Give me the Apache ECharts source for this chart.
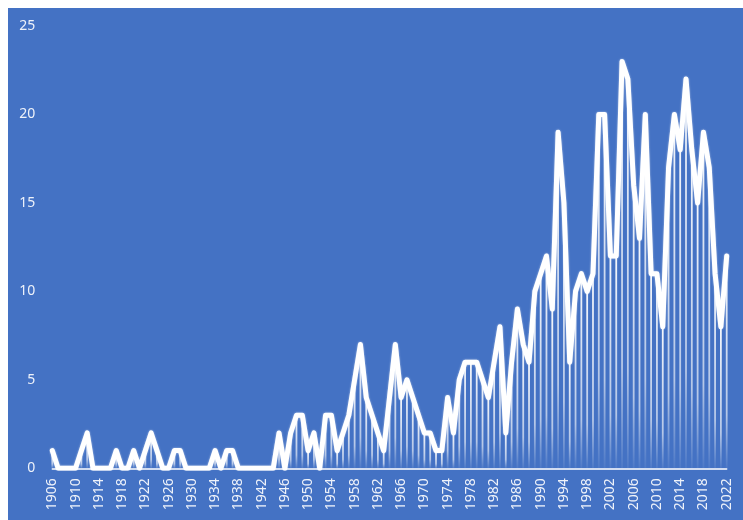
<!DOCTYPE html>
<html>
<head>
<meta charset="utf-8">
<script src="https://cdn.jsdelivr.net/npm/echarts@6/dist/echarts.min.js"></script>
<style>
  html, body { margin: 0; padding: 0; background: #ffffff; }
  #chart { position: absolute; left: 8px; top: 8px; width: 735px; height: 512px; }
</style>
</head>
<body>
<div id="chart"></div>
<script>
// Years 1906–2022, one value per year
const startYear = 1906;
const endYear = 2022;
const years = [];
for (let y = startYear; y <= endYear; y++) years.push(String(y));

const counts1906to1945 = [
  1, 0, 0, 0, 0, 1, 2, 0, 0, 0,
  0, 1, 0, 0, 1, 0, 1, 2, 1, 0,
  0, 1, 1, 0, 0, 0, 0, 0, 1, 0,
  1, 1, 0, 0, 0, 0, 0, 0, 0, 2
];
const counts1946to1985 = [
  0, 2, 3, 3, 1, 2, 0, 3, 3, 1,
  2, 3, 5, 7, 4, 3, 2, 1, 4, 7,
  4, 5, 4, 3, 2, 2, 1, 1, 4, 2,
  5, 6, 6, 6, 5, 4, 6, 8, 2, 6
];
const counts1986to2022 = [
  9, 7, 6, 10, 11, 12, 9, 19, 15, 6,
  10, 11, 10, 11, 20, 20, 12, 12, 23, 22,
  16, 13, 20, 11, 11, 8, 17, 20, 18, 22,
  18, 15, 19, 17, 11, 8, 12
];
const counts = counts1906to1945.concat(counts1946to1985, counts1986to2022);

const yTicks = [0, 5, 10, 15, 20, 25];

const chart = echarts.init(document.getElementById('chart'), null, { renderer: 'canvas' });

chart.setOption({
  backgroundColor: '#4472C4',
  animation: false,
  grid: { left: 44.3, right: 16.3, top: 18, bottom: 51.7 },
  xAxis: {
    type: 'category',
    data: years,
    boundaryGap: false,
    axisLine: { show: true, lineStyle: { color: '#ffffff', width: 1.5 } },
    axisTick: { show: false },
    axisLabel: {
      interval: 3,
      rotate: 90,
      margin: 10,
      color: '#eef2fa',
      fontFamily: 'Noto Sans',
      fontSize: 14
    },
    splitLine: { show: false }
  },
  yAxis: {
    type: 'value',
    min: yTicks[0],
    max: yTicks[yTicks.length - 1],
    interval: 5,
    axisLine: { show: false },
    axisTick: { show: false },
    splitLine: { show: false },
    axisLabel: {
      margin: 17,
      color: '#eef2fa',
      fontFamily: 'Noto Sans',
      fontSize: 14
    }
  },
  series: [
    {
      // thin drop lines from each yearly value down to the baseline
      type: 'bar',
      data: counts,
      barWidth: 1.8,
      silent: true,
      z: 1,
      itemStyle: {
        color: new echarts.graphic.LinearGradient(0, 0, 0, 1, [
          { offset: 0, color: 'rgba(255,255,255,0.95)' },
          { offset: 0.75, color: 'rgba(255,255,255,0.6)' },
          { offset: 1, color: 'rgba(255,255,255,0.05)' }
        ])
      }
    },
    {
      type: 'line',
      data: counts,
      symbol: 'none',
      smooth: false,
      z: 3,
      lineStyle: {
        color: '#ffffff',
        width: 5,
        join: 'round',
        cap: 'round',
        shadowColor: 'rgba(255,255,255,0.6)',
        shadowBlur: 2
      }
    }
  ]
});
</script>
</body>
</html>
